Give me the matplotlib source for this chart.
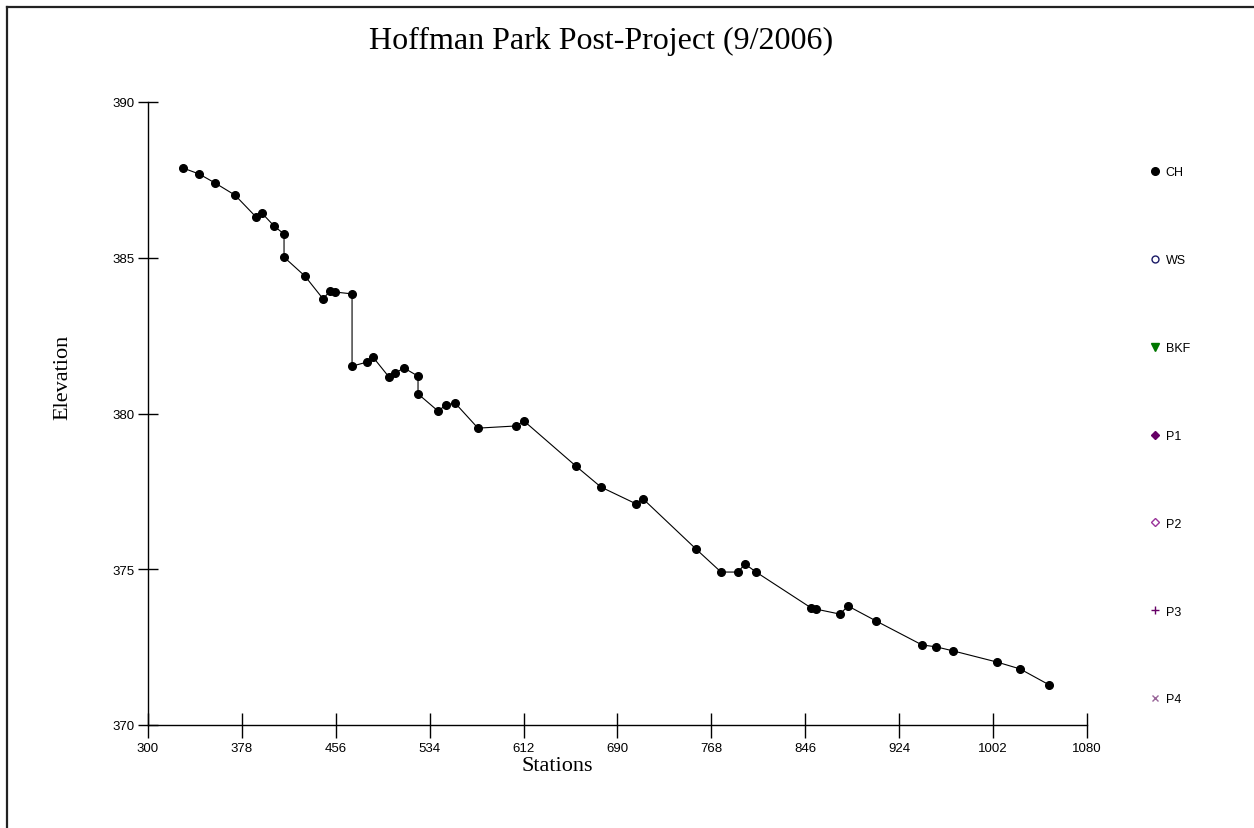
import matplotlib
matplotlib.use('Agg')
import matplotlib.pyplot as plt
from matplotlib.lines import Line2D

# Channel thalweg survey (station, elevation)
stations = [329.1, 342.4, 355.7, 372.3, 389.7, 394.5, 404.7, 413.0, 413.0, 430.4,
            445.4, 451.2, 455.3, 469.5, 469.5, 481.9, 486.9, 500.2, 505.2, 512.7,
            524.3, 524.3, 540.9, 547.5, 555.0, 574.1, 605.7, 612.3, 655.5, 676.2,
            705.4, 711.2, 755.2, 776.0, 790.1, 795.9, 805.1, 850.8, 854.9, 874.8,
            881.5, 904.8, 943.0, 954.6, 968.7, 1005.3, 1024.4, 1048.5]
elev = [387.88, 387.69, 387.40, 387.01, 386.31, 386.44, 386.02, 385.76, 385.02, 384.41,
        383.68, 383.93, 383.90, 383.84, 381.52, 381.65, 381.81, 381.17, 381.30, 381.46,
        381.20, 380.63, 380.08, 380.27, 380.34, 379.53, 379.60, 379.76, 378.31, 377.64,
        377.10, 377.26, 375.65, 374.91, 374.91, 375.17, 374.91, 373.76, 373.72, 373.56,
        373.82, 373.34, 372.57, 372.51, 372.38, 372.02, 371.80, 371.29]

xticks = [300, 378, 456, 534, 612, 690, 768, 846, 924, 1002, 1080]
yticks = [370, 375, 380, 385, 390]

fig = plt.figure(figsize=(12.54, 8.29), dpi=100)
ax = fig.add_axes([148/1254, 1 - 726/829, 939/1254, 623/829])

ax.plot(stations, elev, color='black', lw=0.8)
ax.plot(stations, elev, ls='none', marker='o', color='black', ms=5.5, label='CH')
# empty series, only for the legend
ax.plot([], [], ls='none', marker='o', mfc='white', mec='#1a1a66', ms=5, label='WS')
ax.plot([], [], ls='none', marker='v', color='#007700', ms=6, label='BKF')
ax.plot([], [], ls='none', marker='D', color='#660066', ms=4.5, label='P1')
ax.plot([], [], ls='none', marker='D', mfc='white', mec='#993399', ms=4.5, label='P2')
ax.plot([], [], ls='none', marker='+', color='#660066', ms=6, label='P3')
ax.plot([], [], ls='none', marker='x', color='#996699', ms=5, label='P4')

ax.set_xlim(300, 1080)
ax.set_ylim(370, 390)
ax.set_xticks(xticks)
ax.set_yticks(yticks)
ax.spines['top'].set_visible(False)
ax.spines['right'].set_visible(False)
for s in ['left', 'bottom']:
    ax.spines[s].set_linewidth(1.0)
ax.tick_params(axis='x', direction='inout', length=18, width=1.0, pad=3,
               labelsize=9.5, labelfontfamily='Liberation Sans')
ax.tick_params(axis='y', direction='inout', length=14, width=1.0, pad=3,
               labelsize=9.5, labelfontfamily='Liberation Sans')

fig.text(601/1254, 1 - 41/829, 'Hoffman Park Post-Project (9/2006)', ha='center', va='center',
         family='Liberation Serif', fontsize=23)
fig.text(557/1254, 1 - 767/829, 'Stations', ha='center', va='center',
         family='Liberation Serif', fontsize=16)
fig.text(63/1254, 1 - 377/829, 'Elevation', ha='center', va='center', rotation=90,
         family='Liberation Serif', fontsize=16)

fig.legend(loc='upper left', bbox_to_anchor=(1137/1254, 1 - 156/829), frameon=False,
           handlelength=1.0, handletextpad=0.4, labelspacing=6.07,
           prop={'family': 'Liberation Sans', 'size': 9})

# frame edges of the original window
fig.add_artist(Line2D([7/1254, 1], [1 - 8/829, 1 - 8/829], color='#222222', lw=1.6))
fig.add_artist(Line2D([7/1254, 7/1254], [0, 1 - 8/829], color='#222222', lw=1.6))

fig.savefig('out.png', dpi=100)
